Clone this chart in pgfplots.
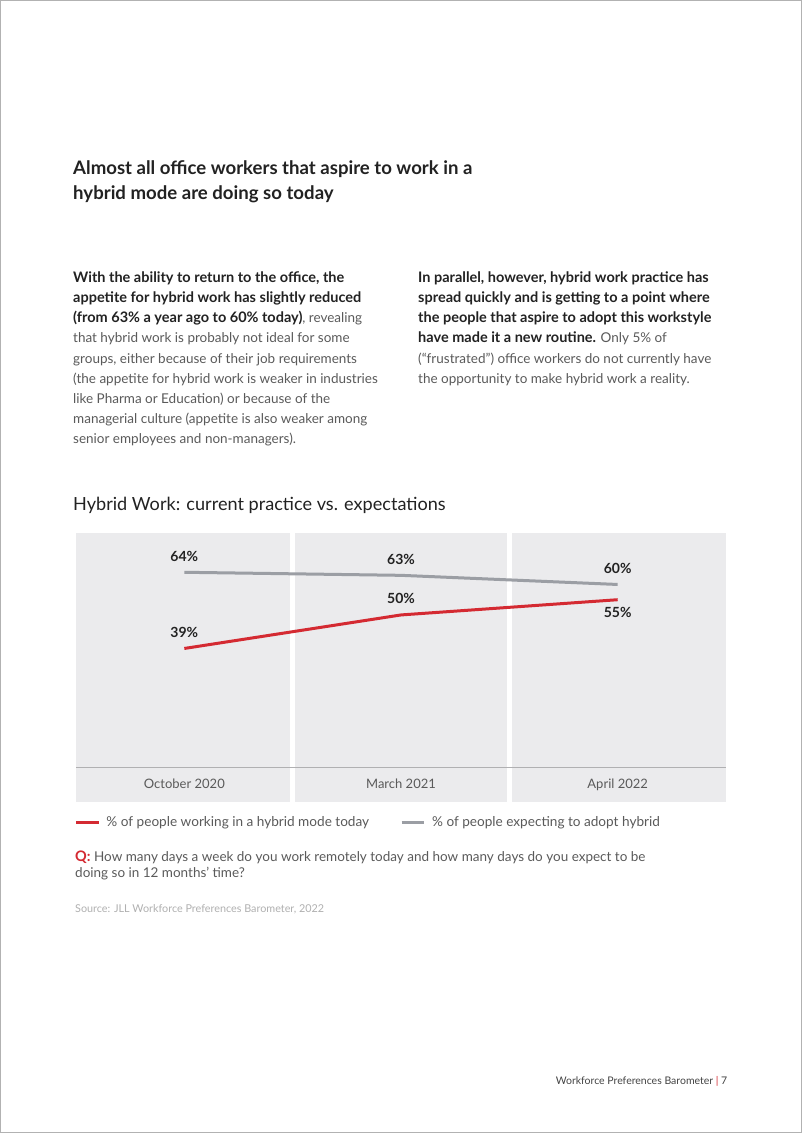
\documentclass[border=0pt]{standalone}
\usepackage{pgfplots}
\pgfplotsset{compat=1.18}
\usepackage{fontspec}
\setmainfont{Lato}
\definecolor{jllred}{HTML}{D42A32}
\definecolor{linegray}{HTML}{9B9EA4}
\definecolor{panel}{HTML}{EBEBED}
\definecolor{axisline}{HTML}{B0B0B2}
\definecolor{bodytext}{HTML}{5A5A5A}
\definecolor{dark}{HTML}{222222}
\definecolor{srcgray}{HTML}{B0B0B0}
\newcommand\body{\fontsize{13.5bp}{17bp}\selectfont}
\newcommand\bodyb{\fontsize{14.5bp}{17bp}\selectfont\bfseries}
\newcommand\ttl{\fontsize{18.6bp}{22bp}\selectfont}
\newcommand\ctl{\fontsize{18.1bp}{22bp}\selectfont}
\newcommand\lab{\fontsize{14bp}{16bp}\selectfont\bfseries}
\newcommand\legtxt{\fontsize{13.6bp}{16bp}\selectfont}
\newcommand\ticktxt{\fontsize{13bp}{16bp}\selectfont}
\newcommand\srctxt{\fontsize{10.8bp}{13bp}\selectfont}
\newcommand\foottxt{\fontsize{10.5bp}{13bp}\selectfont}
\begin{document}
\begin{tikzpicture}
\begin{scope}[x=1bp,y=1bp]
\path[fill=white, draw=gray!60, line width=1bp] (0.5,0.5) rectangle (801.5,1132.5);
% Title
\node[anchor=base west, inner sep=0, text=dark, font=\ttl\bfseries] at (73,1133-174.5) {Almost all office workers that aspire to work in a};
\node[anchor=base west, inner sep=0, text=dark, font=\ttl\bfseries] at (73,1133-199.5) {hybrid mode are doing so today};
\begin{scope}[every node/.style={anchor=base west, inner sep=0, font=\body, text=bodytext}]
% Left paragraph
\node[text=dark, font=\bodyb] at (73,1133-282.3) {With the ability to return to the office, the};
\node[text=dark, font=\bodyb] at (73,1133-302.5) {appetite for hybrid work has slightly reduced};
\node at (73,1133-322.7) {\textcolor{dark}{\bodyb (from 63\% a year ago to 60\% today)}, revealing};
\node at (73,1133-342.9) {that hybrid work is probably not ideal for some};
\node at (73,1133-363.1) {groups, either because of their job requirements};
\node at (73,1133-383.3) {(the appetite for hybrid work is weaker in industries};
\node at (73,1133-403.5) {like Pharma or Education) or because of the};
\node at (73,1133-423.7) {managerial culture (appetite is also weaker among};
\node at (73,1133-443.9) {senior employees and non-managers).};
% Right paragraph
\node[text=dark, font=\bodyb] at (418,1133-282.3) {In parallel, however, hybrid work practice has};
\node[text=dark, font=\bodyb] at (418,1133-302.5) {spread quickly and is getting to a point where};
\node[text=dark, font=\bodyb] at (418,1133-322.7) {the people that aspire to adopt this workstyle};
\node at (418,1133-342.9) {\textcolor{dark}{\bodyb have made it a new routine.} Only 5\% of};
\node at (418,1133-363.1) {(“frustrated”) office workers do not currently have};
\node at (418,1133-383.3) {the opportunity to make hybrid work a reality.};
% Q and source
\node at (75,1133-862) {\textcolor{jllred}{\bodyb Q:} How many days a week do you work remotely today and how many days do you expect to be};
\node at (75,1133-878) {doing so in 12 months’ time?};
\node[font=\srctxt, text=srcgray] at (75,1133-912.5) {Source: JLL Workforce Preferences Barometer, 2022};
\end{scope}
% Chart title
\node[anchor=base west, inner sep=0, text=dark, font=\ctl] at (73,1133-510.7) {Hybrid Work: current practice vs. expectations};
% Footer
\node[anchor=base east, inner sep=0, text=dark!85, font=\foottxt] at (727.5,1133-1084.5) {Workforce Preferences Barometer \textcolor{jllred}{|} 7};
\end{scope}
\begin{axis}[
  at={(76bp,331.3bp)}, anchor=south west,
  width=650bp, height=268.4bp, scale only axis,
  xmin=-0.5, xmax=2.5, ymin=-11.29, ymax=76.8,
  axis background/.style={fill=panel},
  axis line style={draw=none},
  xtick={0,1,2}, xticklabels={October 2020, March 2021, April 2022},
  ytick=\empty,
  major tick length=0pt,
  xticklabel style={anchor=base, yshift=13.2bp, font=\ticktxt, text=bodytext},
  extra x ticks={0.5,1.5}, extra x tick labels={},
  extra x tick style={grid=major, major grid style={white, line width=5.5bp}},
  extra y ticks={0}, extra y tick labels={},
  extra y tick style={grid=major, major grid style={axisline, line width=1.2bp}},
  clip=false,
  /pgf/number format/assume math mode=true,
  legend style={at={(axis description cs:-0.0023,-0.0768)}, anchor=west, draw=none, fill=none,
    inner sep=0pt, outer sep=0pt, font=\legtxt, text=bodytext,
    legend columns=2,
    /tikz/every odd column/.append style={column sep=4.5bp},
    /tikz/every even column/.append style={column sep=29bp}},
  legend cell align=left,
  legend image code/.code={\draw[#1, line width=3bp] (0bp,0bp) -- (22.5bp,0bp);},
]
\addplot[jllred, line width=3bp] coordinates {(0,39) (1,50) (2,55)};
\addlegendentry{\% of people working in a hybrid mode today}
\addplot[linegray, line width=3bp] coordinates {(0,64) (1,63) (2,60)};
\addlegendentry{\% of people expecting to adopt hybrid}
\addplot[draw=none, forget plot, nodes near coords={\pgfmathprintnumber{\pgfplotspointmeta}\%},
  nodes near coords style={anchor=center, yshift=16bp, font=\lab, text=dark}]
  coordinates {(0,64) (1,63) (2,60) (0,39) (1,50)};
\addplot[draw=none, forget plot, nodes near coords={\pgfmathprintnumber{\pgfplotspointmeta}\%},
  nodes near coords style={anchor=center, yshift=-12.5bp, font=\lab, text=dark}]
  coordinates {(2,55)};
\end{axis}
\end{tikzpicture}
\end{document}
